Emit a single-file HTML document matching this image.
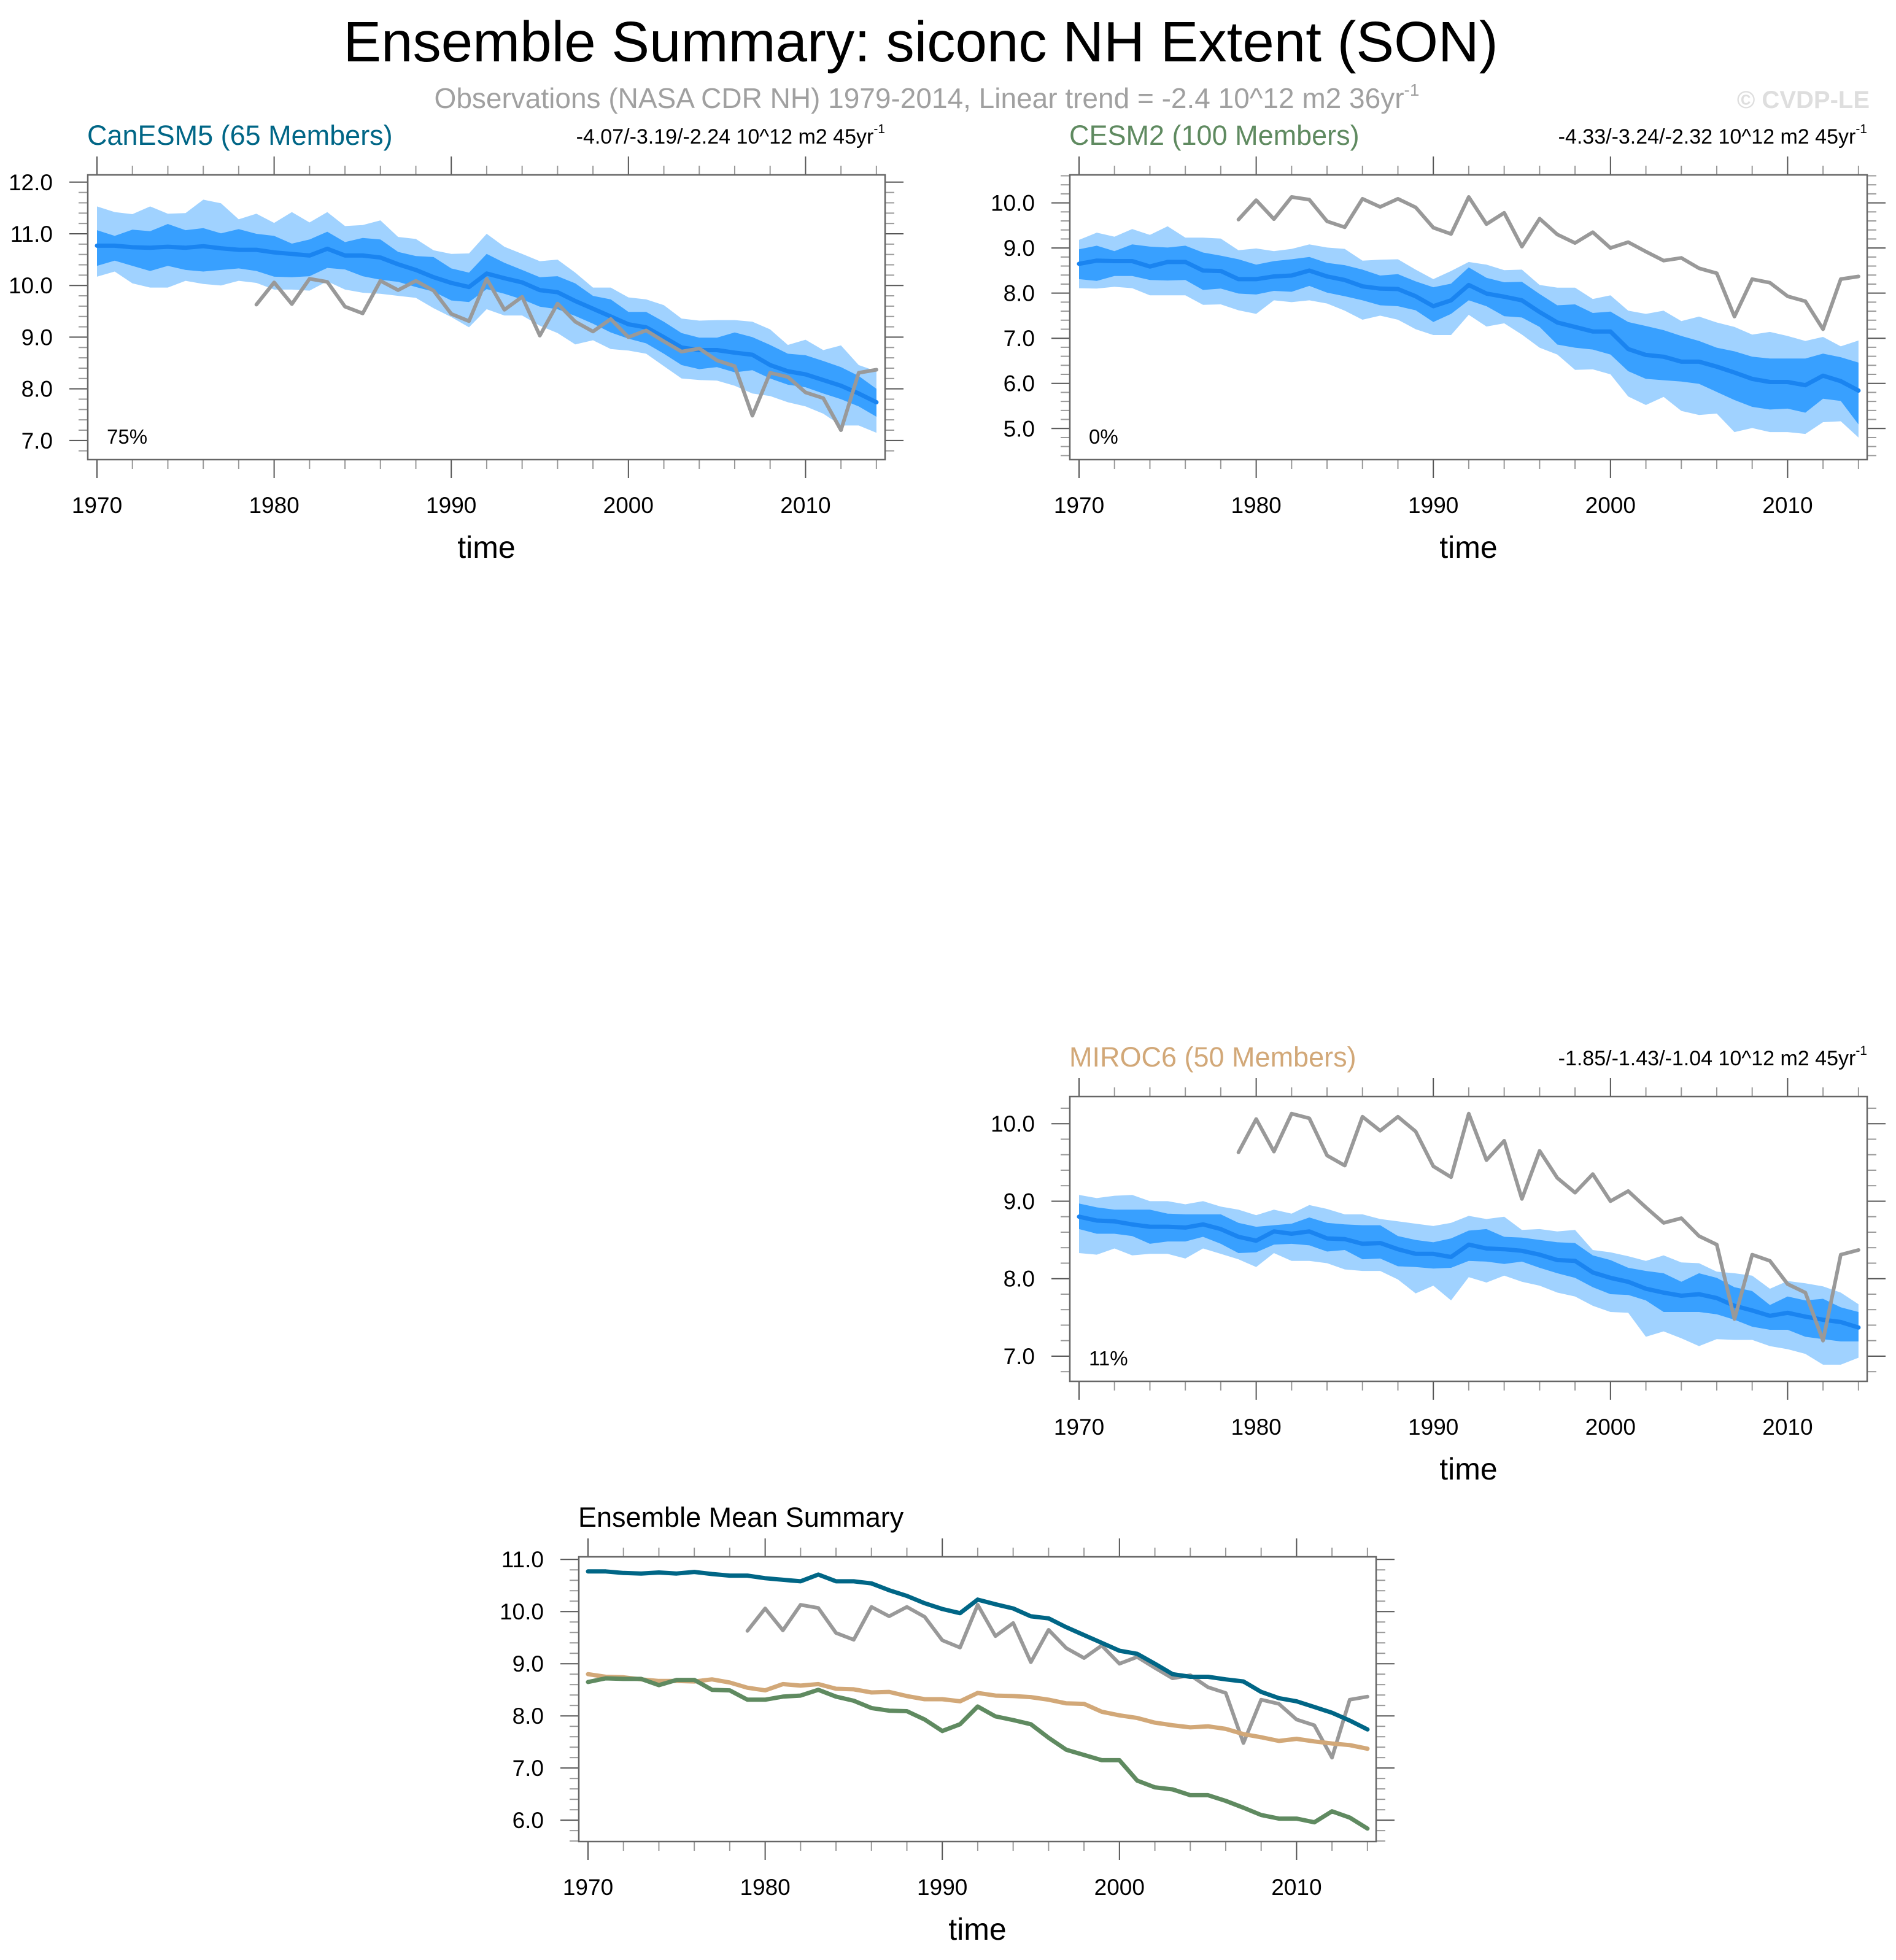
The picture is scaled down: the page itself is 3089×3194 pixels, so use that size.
<!DOCTYPE html>
<html><head><meta charset="utf-8"><style>
html,body{margin:0;padding:0;background:#fff;}
svg{display:block;font-family:"Liberation Sans",Arial,sans-serif;}
</style></head><body>
<svg id="chart" width="3089" height="3194" viewBox="0 0 3089 3194" xmlns="http://www.w3.org/2000/svg">
<rect x="0" y="0" width="3089" height="3194" fill="#fff"/>
<text x="1500" y="100" font-size="92.5" text-anchor="middle" fill="#000">Ensemble Summary: siconc NH Extent (SON)</text>
<text x="1510" y="176" font-size="46" text-anchor="middle" fill="#a0a0a0">Observations (NASA CDR NH) 1979-2014, Linear trend = -2.4 10^12 m2 36yr<tspan font-size="28" dy="-20">-1</tspan></text>
<text x="3046" y="176" font-size="40" font-weight="bold" text-anchor="end" fill="#dedede">© CVDP-LE</text>
<g id="plots"></g>
</svg>
<script>
const years = [];
for (let y = 1970; y <= 2014; y++) years.push(y);
const obsYears = [];
for (let y = 1979; y <= 2014; y++) obsYears.push(y);

const obs = [9.63,10.06,9.64,10.13,10.07,9.59,9.46,10.09,9.91,10.09,9.9,9.45,9.31,10.13,9.53,9.78,9.03,9.65,9.3,9.11,9.35,9.0,9.13,8.92,8.72,8.78,8.55,8.44,7.48,8.31,8.23,7.93,7.82,7.2,8.31,8.37];

const canMean = [10.77,10.77,10.74,10.73,10.75,10.73,10.76,10.72,10.69,10.69,10.64,10.61,10.58,10.71,10.58,10.58,10.54,10.41,10.30,10.16,10.05,9.97,10.23,10.14,10.06,9.91,9.87,9.70,9.55,9.40,9.25,9.19,9.00,8.80,8.75,8.75,8.70,8.66,8.46,8.34,8.28,8.17,8.06,7.91,7.74];
const canHiOuter = [11.53,11.42,11.38,11.53,11.39,11.40,11.66,11.59,11.28,11.39,11.21,11.42,11.22,11.42,11.15,11.17,11.26,10.94,10.90,10.68,10.61,10.62,11.00,10.75,10.61,10.47,10.50,10.25,9.96,9.96,9.77,9.73,9.62,9.36,9.32,9.33,9.33,9.30,9.15,8.85,8.95,8.75,8.84,8.46,8.34];
const canHiInner = [11.07,10.96,11.08,11.05,11.19,11.07,11.11,11.01,11.09,11.00,10.96,10.81,10.89,11.04,10.84,10.92,10.89,10.65,10.57,10.55,10.33,10.25,10.61,10.44,10.30,10.16,10.18,10.04,9.80,9.73,9.49,9.49,9.30,9.08,8.99,8.99,9.09,9.00,8.85,8.68,8.65,8.54,8.42,8.25,8.00];
const canLoInner = [10.38,10.48,10.38,10.28,10.38,10.30,10.27,10.30,10.33,10.28,10.17,10.16,10.18,10.34,10.31,10.18,10.11,10.07,9.97,9.88,9.71,9.68,9.93,9.84,9.73,9.59,9.54,9.41,9.26,9.09,8.97,8.88,8.68,8.46,8.38,8.42,8.32,8.36,8.20,8.08,8.03,7.91,7.80,7.66,7.46];
const canLoOuter = [10.17,10.27,10.04,9.96,9.96,10.09,10.03,10.00,10.09,10.05,9.92,9.92,9.90,10.08,9.92,9.86,9.84,9.80,9.76,9.56,9.39,9.19,9.54,9.42,9.42,9.22,9.08,8.86,8.94,8.77,8.74,8.68,8.44,8.20,8.17,8.16,8.06,7.91,7.86,7.74,7.66,7.52,7.29,7.29,7.15];

const cesmMean = [8.65,8.72,8.71,8.71,8.59,8.69,8.69,8.50,8.49,8.31,8.31,8.37,8.39,8.50,8.37,8.29,8.15,8.10,8.09,7.93,7.71,7.84,8.18,7.99,7.92,7.84,7.58,7.35,7.25,7.15,7.15,6.76,6.63,6.59,6.48,6.48,6.37,6.24,6.10,6.03,6.03,5.96,6.17,6.05,5.84];
const cesmHiOuter = [9.18,9.34,9.25,9.42,9.29,9.48,9.23,9.23,9.21,8.95,8.99,8.93,8.98,9.08,9.01,8.98,8.72,8.74,8.75,8.52,8.31,8.49,8.69,8.63,8.51,8.52,8.18,8.12,8.12,7.87,7.95,7.61,7.54,7.61,7.38,7.48,7.35,7.25,7.08,7.14,7.05,6.94,7.03,6.82,6.95];
const cesmHiInner = [8.97,9.05,8.93,9.08,9.03,9.01,9.05,8.90,8.83,8.75,8.63,8.71,8.75,8.80,8.67,8.62,8.52,8.39,8.42,8.26,8.13,8.21,8.57,8.34,8.24,8.25,7.98,7.73,7.75,7.56,7.59,7.36,7.27,7.18,7.05,6.94,6.79,6.71,6.59,6.55,6.55,6.55,6.66,6.58,6.46];
const cesmLoInner = [8.31,8.27,8.38,8.38,8.29,8.28,8.29,8.07,8.10,7.99,7.97,8.05,8.03,8.16,8.01,7.93,7.84,7.73,7.71,7.62,7.36,7.54,7.84,7.71,7.49,7.46,7.25,6.86,6.79,6.75,6.64,6.27,6.10,6.07,6.04,5.99,5.81,5.63,5.48,5.42,5.44,5.35,5.66,5.61,5.09];
const cesmLoOuter = [8.11,8.10,8.14,8.11,7.95,7.95,7.95,7.74,7.75,7.62,7.54,7.84,7.80,7.84,7.77,7.61,7.41,7.50,7.41,7.20,7.07,7.07,7.52,7.26,7.33,7.08,6.79,6.64,6.30,6.31,6.20,5.71,5.52,5.70,5.39,5.30,5.33,4.92,5.01,4.92,4.92,4.88,5.14,5.16,4.80];

const mirocMean = [8.80,8.75,8.74,8.70,8.67,8.67,8.66,8.70,8.64,8.54,8.49,8.61,8.58,8.61,8.52,8.51,8.45,8.46,8.38,8.32,8.32,8.28,8.44,8.39,8.38,8.36,8.31,8.24,8.23,8.08,8.01,7.96,7.87,7.82,7.78,7.80,7.75,7.65,7.59,7.52,7.56,7.51,7.47,7.44,7.37];
const mirocHiOuter = [9.08,9.04,9.07,9.08,9.00,9.00,8.96,9.00,8.93,8.89,8.82,8.89,8.84,8.95,8.90,8.83,8.83,8.77,8.74,8.71,8.68,8.72,8.81,8.77,8.80,8.63,8.64,8.61,8.63,8.37,8.34,8.29,8.23,8.30,8.21,8.20,8.09,8.07,8.04,7.87,7.97,7.94,7.90,7.82,7.67];
const mirocHiInner = [8.97,8.92,8.89,8.89,8.89,8.84,8.83,8.83,8.83,8.72,8.67,8.69,8.71,8.79,8.72,8.70,8.69,8.69,8.55,8.50,8.47,8.52,8.62,8.64,8.54,8.53,8.50,8.47,8.46,8.30,8.24,8.14,8.10,8.07,7.96,8.07,8.01,7.89,7.84,7.66,7.77,7.72,7.74,7.63,7.57];
const mirocLoInner = [8.64,8.58,8.58,8.55,8.45,8.48,8.48,8.54,8.45,8.33,8.34,8.44,8.45,8.43,8.35,8.37,8.25,8.26,8.16,8.15,8.13,8.14,8.23,8.22,8.19,8.22,8.14,8.07,8.01,7.89,7.80,7.79,7.72,7.57,7.57,7.57,7.54,7.47,7.38,7.34,7.34,7.25,7.22,7.19,7.19];
const mirocLoOuter = [8.33,8.31,8.39,8.30,8.32,8.32,8.26,8.39,8.32,8.25,8.15,8.33,8.23,8.23,8.20,8.12,8.10,8.10,7.99,7.81,7.91,7.72,8.02,7.95,8.04,7.96,7.91,7.82,7.77,7.65,7.57,7.56,7.25,7.32,7.23,7.13,7.22,7.21,7.21,7.13,7.09,7.03,6.89,6.89,6.98];

const yTicks1 = ["7.0","8.0","9.0","10.0","11.0","12.0"];
const yTicks2 = ["5.0","6.0","7.0","8.0","9.0","10.0"];
const yTicks3 = ["7.0","8.0","9.0","10.0"];
const yTicks4 = ["6.0","7.0","8.0","9.0","10.0","11.0"];
const xTickLabels = ["1970","1980","1990","2000","2010"];

const NS = "http://www.w3.org/2000/svg";
const root = document.getElementById('plots');
function mk(tag, attrs, parent) {
  const e = document.createElementNS(NS, tag);
  for (const k in attrs) e.setAttribute(k, attrs[k]);
  (parent || root).appendChild(e);
  return e;
}

function drawPanel(cfg) {
  const g = mk('g', {});
  
  
  const L = cfg.x0, R = cfg.x1, T = cfg.y0, B = cfg.y1;
  const xs = v => L + (v - 1969.48) / (2014.49 - 1969.48) * (R - L);
  const ys = v => T + (cfg.ymax - v) / (cfg.ymax - cfg.ymin) * (B - T);
  for (let yr = 1970; yr <= 2014; yr += 2) {
    const major = (yr % 10 === 0);
    const len = major ? 30 : 15;
    const col = major ? '#555' : '#999';
    const t1 = mk('line', {x1: xs(yr), x2: xs(yr), y1: B, y2: B + len, stroke: col, 'stroke-width': 2}, g);
    
    
    const t2 = mk('line', {x1: xs(yr), x2: xs(yr), y1: T, y2: T - len, stroke: col, 'stroke-width': 2}, g);
    
    
  }
  xTickLabels.forEach(lab => {
    const t = mk('text', {x: xs(+lab), y: B + 87, 'font-size': 37, 'text-anchor': 'middle', fill: '#000'}, g);
    
    
    t.textContent = lab;
  });
  const lo = Math.ceil(cfg.ymin * 5 - 1e-6), hi = Math.floor(cfg.ymax * 5 + 1e-6);
  for (let k = lo; k <= hi; k++) {
    const v = k / 5;
    const major = (k % 5 === 0);
    const len = major ? 30 : 15;
    const col = major ? '#555' : '#999';
    const a = mk('line', {x1: L - len, x2: L, y1: ys(v), y2: ys(v), stroke: col, 'stroke-width': 2}, g);
    
    
    const b = mk('line', {x1: R, x2: R + len, y1: ys(v), y2: ys(v), stroke: col, 'stroke-width': 2}, g);
    
    
  }
  cfg.yTicks.forEach(lab => {
    const t = mk('text', {x: L - 57, y: ys(+lab) + 13, 'font-size': 37, 'text-anchor': 'end', fill: '#000'}, g);
    
    
    t.textContent = lab;
  });
  function band(hiArr, loArr, color, nm) {
    let pts = [];
    years.forEach((yr, i) => pts.push(xs(yr).toFixed(1) + ',' + ys(hiArr[i]).toFixed(1)));
    for (let i = years.length - 1; i >= 0; i--) pts.push(xs(years[i]).toFixed(1) + ',' + ys(loArr[i]).toFixed(1));
    const p = mk('polygon', {points: pts.join(' '), fill: color}, g);
    
    
  }
  function line(xArr, vArr, color, w, nm) {
    const pts = xArr.map((yr, i) => xs(yr).toFixed(1) + ',' + ys(vArr[i]).toFixed(1)).join(' ');
    const p = mk('polyline', {points: pts, fill: 'none', stroke: color, 'stroke-width': w, 'stroke-linejoin': 'round', 'stroke-linecap': 'round'}, g);
    
    
  }
  if (cfg.bands) {
    band(cfg.bands[0], cfg.bands[3], '#a0d2ff', 'outer-spread-band');
    band(cfg.bands[1], cfg.bands[2], '#38a0ff', 'inner-spread-band');
    line(years, cfg.mean, '#1a84f0', 7, 'ensemble-mean-line');
    line(obsYears, obs, '#999999', 6, 'observations-line');
  } else {
    line(obsYears, obs, '#999999', 6, 'observations-line');
    line(years, mirocMean, '#d2a878', 7, 'miroc6-mean-line');
    line(years, cesmMean, '#5f8a60', 7, 'cesm2-mean-line');
    line(years, canMean, '#006686', 7, 'canesm5-mean-line');
  }
  const fr = mk('rect', {x: L, y: T, width: R - L, height: B - T, fill: 'none', stroke: '#666', 'stroke-width': 2.5}, g);
  
  
  const tt = mk('text', {x: L - 1, y: T - 49, 'font-size': 45, fill: cfg.titleColor}, g);
  
  
  tt.textContent = cfg.title;
  if (cfg.trend) {
    const tr = mk('text', {x: R, y: T - 51, 'font-size': 34, 'text-anchor': 'end', fill: '#000'}, g);
    
    
    tr.textContent = cfg.trend;
    const sp = mk('tspan', {'font-size': 21, dy: -17}, tr);
    sp.textContent = '-1';
  }
  if (cfg.pct) {
    const pc = mk('text', {x: L + 31, y: B - 26, 'font-size': 33, fill: '#000'}, g);
    
    
    pc.textContent = cfg.pct;
  }
  const xt = mk('text', {x: (L + R) / 2, y: B + 160, 'font-size': 50, 'text-anchor': 'middle', fill: '#000'}, g);
  
  
  xt.textContent = 'time';
}

drawPanel({name: 'canesm5-panel', x0: 143, x1: 1442, y0: 285, y1: 749, ymin: 6.63, ymax: 12.14, yTicks: yTicks1,
  bands: [canHiOuter, canHiInner, canLoInner, canLoOuter], mean: canMean,
  title: 'CanESM5 (65 Members)', titleColor: '#006686', trend: '-4.07/-3.19/-2.24 10^12 m2 45yr', pct: '75%'});
drawPanel({name: 'cesm2-panel', x0: 1743, x1: 3042, y0: 285, y1: 749, ymin: 4.31, ymax: 10.62, yTicks: yTicks2,
  bands: [cesmHiOuter, cesmHiInner, cesmLoInner, cesmLoOuter], mean: cesmMean,
  title: 'CESM2 (100 Members)', titleColor: '#5f8a60', trend: '-4.33/-3.24/-2.32 10^12 m2 45yr', pct: '0%'});
drawPanel({name: 'miroc6-panel', x0: 1743, x1: 3042, y0: 1787, y1: 2251, ymin: 6.675, ymax: 10.35, yTicks: yTicks3,
  bands: [mirocHiOuter, mirocHiInner, mirocLoInner, mirocLoOuter], mean: mirocMean,
  title: 'MIROC6 (50 Members)', titleColor: '#d2a878', trend: '-1.85/-1.43/-1.04 10^12 m2 45yr', pct: '11%'});
drawPanel({name: 'ensemble-mean-summary-panel', x0: 943, x1: 2242, y0: 2537, y1: 3001, ymin: 5.59, ymax: 11.05, yTicks: yTicks4,
  bands: null, title: 'Ensemble Mean Summary', titleColor: '#000'});
</script>
</body></html>
